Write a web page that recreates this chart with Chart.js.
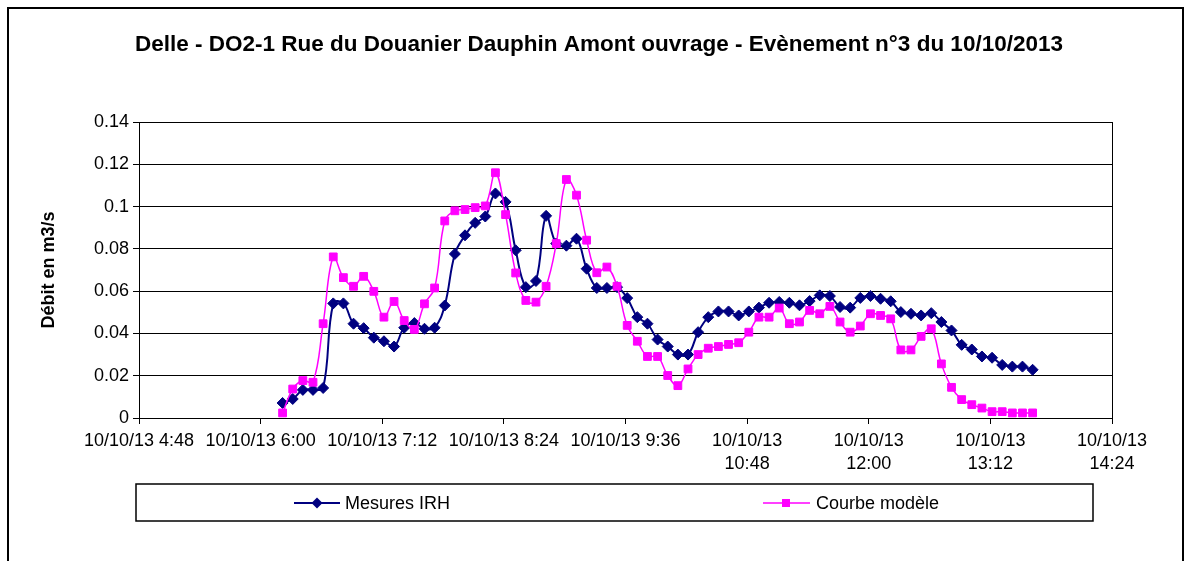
<!DOCTYPE html>
<html>
<head>
<meta charset="utf-8">
<script src="https://cdn.jsdelivr.net/npm/chart.js@4/dist/chart.umd.min.js"></script>
<style>
html,body{margin:0;padding:0;background:#fff;}
#wrap{width:1192px;height:561px;position:relative;overflow:hidden;}
</style>
</head>
<body>
<div id="wrap"><canvas id="c" width="1192" height="561"></canvas></div>
<script>
const titleText = 'Delle - DO2-1 Rue du Douanier Dauphin Amont ouvrage - Evènement n°3 du 10/10/2013';
const yAxisTitle = 'Débit en m3/s';
const seriesNames = ['Mesures IRH', 'Courbe modèle'];

const times = [
 '6:13','6:19','6:25','6:31','6:37','6:43','6:49','6:55',
 '7:01','7:07','7:13','7:19','7:25','7:31','7:37','7:43','7:49','7:55',
 '8:01','8:07','8:13','8:19','8:25','8:31','8:37','8:43','8:49','8:55',
 '9:01','9:07','9:13','9:19','9:25','9:31','9:37','9:43','9:49','9:55',
 '10:01','10:07','10:13','10:19','10:25','10:31','10:37','10:43','10:49','10:55',
 '11:01','11:07','11:13','11:19','11:25','11:31','11:37','11:43','11:49','11:55',
 '12:01','12:07','12:13','12:19','12:25','12:31','12:37','12:43','12:49','12:55',
 '13:01','13:07','13:13','13:19','13:25','13:31','13:37'
];

const mesuresIRH = [
 0.0071,0.0090,0.0133,0.0133,0.0142,0.0542,0.0542,0.0446,0.0425,0.0380,
 0.0363,0.0338,0.0427,0.0449,0.0422,0.0427,0.0532,0.0776,0.0864,0.0923,
 0.0953,0.1062,0.1022,0.0793,0.0619,0.0648,0.0956,0.0825,0.0815,0.0848,
 0.0706,0.0615,0.0615,0.0619,0.0567,0.0477,0.0446,0.0371,0.0338,0.0300,
 0.0300,0.0406,0.0477,0.0504,0.0504,0.0485,0.0504,0.0522,0.0545,0.0549,
 0.0545,0.0533,0.0553,0.0580,0.0577,0.0525,0.0522,0.0568,0.0577,0.0564,
 0.0552,0.0501,0.0493,0.0485,0.0496,0.0454,0.0414,0.0346,0.0324,0.0291,
 0.0285,0.0251,0.0243,0.0243,0.0228
];

const courbeModele = [
 0.0024,0.0137,0.0177,0.0169,0.0446,0.0762,0.0664,0.0623,0.0670,0.0599,
 0.0477,0.0551,0.0461,0.0419,0.0540,0.0615,0.0932,0.0980,0.0986,0.0995,
 0.1003,0.1160,0.0962,0.0686,0.0556,0.0548,0.0623,0.0825,0.1128,0.1054,
 0.0841,0.0687,0.0714,0.0623,0.0438,0.0363,0.0291,0.0291,0.0201,0.0153,
 0.0232,0.0300,0.0330,0.0338,0.0348,0.0356,0.0406,0.0477,0.0477,0.0520,
 0.0446,0.0454,0.0509,0.0493,0.0528,0.0454,0.0406,0.0435,0.0493,0.0485,
 0.0469,0.0322,0.0322,0.0386,0.0422,0.0256,0.0145,0.0087,0.0063,0.0047,
 0.0030,0.0030,0.0024,0.0024,0.0024
];

const xTickTimes = ['4:48','6:00','7:12','8:24','9:36','10:48','12:00','13:12','14:24'];
const xTickLabels = [
 '10/10/13 4:48','10/10/13 6:00','10/10/13 7:12','10/10/13 8:24','10/10/13 9:36',
 ['10/10/13','10:48'],['10/10/13','12:00'],['10/10/13','13:12'],['10/10/13','14:24']
];
const yTickLabels = ['0','0.02','0.04','0.06','0.08','0.1','0.12','0.14'];

const FONT = '"Liberation Sans", Arial, sans-serif';
const toMin = s => { const p = s.split(':'); return (+p[0]) * 60 + (+p[1]); };
const tickMins = xTickTimes.map(toMin);

const blueData = times.map((t, i) => ({x: toMin(t), y: mesuresIRH[i]}));
const pinkData = times.map((t, i) => ({x: toMin(t), y: courbeModele[i]}));

const BLUE = '#000080', PINK = '#FF00FF';

const decorPlugin = {
  id: 'decor',
  beforeDatasetsDraw(chart) {
    const {ctx, chartArea: a} = chart;
    ctx.save();
    ctx.strokeStyle = '#000';
    ctx.lineWidth = 1;
    ctx.strokeRect(Math.round(a.left) + 0.5, Math.round(a.top) + 0.5, Math.round(a.right - a.left), Math.round(a.bottom - a.top));
    ctx.restore();
  },
  afterDraw(chart) {
    const ctx = chart.ctx;
    ctx.save();
    // outer frame
    ctx.strokeStyle = '#000';
    ctx.lineWidth = 2;
    ctx.strokeRect(8, 8, 1175, 620);
    // legend box
    ctx.lineWidth = 1.5;
    ctx.strokeRect(136, 484, 957, 37);
    const ly = 503;
    ctx.strokeStyle = BLUE; ctx.lineWidth = 2;
    ctx.beginPath(); ctx.moveTo(294, ly); ctx.lineTo(340, ly); ctx.stroke();
    ctx.fillStyle = BLUE;
    ctx.beginPath(); ctx.moveTo(317, ly - 5.5); ctx.lineTo(322.5, ly); ctx.lineTo(317, ly + 5.5); ctx.lineTo(311.5, ly); ctx.closePath(); ctx.fill();
    ctx.strokeStyle = PINK; ctx.lineWidth = 1.5;
    ctx.beginPath(); ctx.moveTo(763, ly); ctx.lineTo(810, ly); ctx.stroke();
    ctx.fillStyle = PINK;
    ctx.fillRect(782, ly - 4, 8, 8);
    ctx.fillStyle = '#000';
    ctx.font = '18px ' + FONT;
    ctx.textBaseline = 'middle';
    ctx.textAlign = 'left';
    ctx.fillText(seriesNames[0], 345, ly + 1);
    ctx.fillText(seriesNames[1], 816, ly + 1);
    ctx.restore();
  }
};

new Chart(document.getElementById('c'), {
  type: 'line',
  data: {
    datasets: [
      {
        label: seriesNames[0], data: blueData, order: 1,
        borderColor: BLUE, backgroundColor: BLUE, borderWidth: 2,
        pointStyle: 'rectRot', pointRadius: 5.5, pointBorderWidth: 1,
        pointBackgroundColor: BLUE, pointBorderColor: BLUE,
        tension: 0.4, fill: false
      },
      {
        label: seriesNames[1], data: pinkData, order: 0,
        borderColor: PINK, backgroundColor: PINK, borderWidth: 1.5,
        pointStyle: 'rect', pointRadius: 5.5, pointBorderWidth: 1,
        pointBackgroundColor: PINK, pointBorderColor: PINK,
        tension: 0.4, fill: false
      }
    ]
  },
  options: {
    responsive: false,
    animation: false,
    devicePixelRatio: 1,
    layout: {padding: {left: 16, right: 10, top: 10, bottom: 83}},
    plugins: {
      legend: {display: false},
      tooltip: {enabled: false},
      title: {
        display: true, text: titleText, color: '#000',
        font: {family: FONT, size: 22.5, weight: 'bold', lineHeight: 1.2},
        padding: {top: 21, bottom: 64}
      }
    },
    scales: {
      x: {
        type: 'linear',
        min: tickMins[0], max: tickMins[tickMins.length - 1],
        afterBuildTicks: (scale) => { scale.ticks = tickMins.map(v => ({value: v})); },
        afterFit: (scale) => { scale.height = 60; },
        grid: {display: true, drawOnChartArea: false, drawTicks: true, tickLength: 6, color: '#000', lineWidth: 1},
        border: {display: true, color: '#000', width: 1},
        ticks: {
          color: '#000', padding: 5, maxRotation: 0, autoSkip: false,
          font: {family: FONT, size: 18, lineHeight: 1.3},
          callback: (v, i) => xTickLabels[i]
        }
      },
      y: {
        min: 0, max: 0.14,
        afterBuildTicks: (scale) => { scale.ticks = yTickLabels.map(s => ({value: parseFloat(s)})); },
        afterFit: (scale) => { scale.width = 123; },
        grid: {display: true, drawTicks: true, tickLength: 6, color: '#000', lineWidth: 1},
        border: {display: true, color: '#000', width: 1},
        title: {
          display: true, text: yAxisTitle, color: '#000',
          font: {family: FONT, size: 18, weight: 'bold', lineHeight: 1.2},
          padding: {top: 22, bottom: 0}
        },
        ticks: {
          color: '#000', padding: 4,
          font: {family: FONT, size: 18},
          callback: (v, i) => yTickLabels[i]
        }
      },
      yRight: {
        position: 'right',
        min: 0, max: 0.14,
        afterFit: (scale) => { scale.width = 70; },
        grid: {display: false, drawOnChartArea: false},
        border: {display: false},
        ticks: {display: false}
      }
    }
  },
  plugins: [decorPlugin]
});
</script>
</body>
</html>
